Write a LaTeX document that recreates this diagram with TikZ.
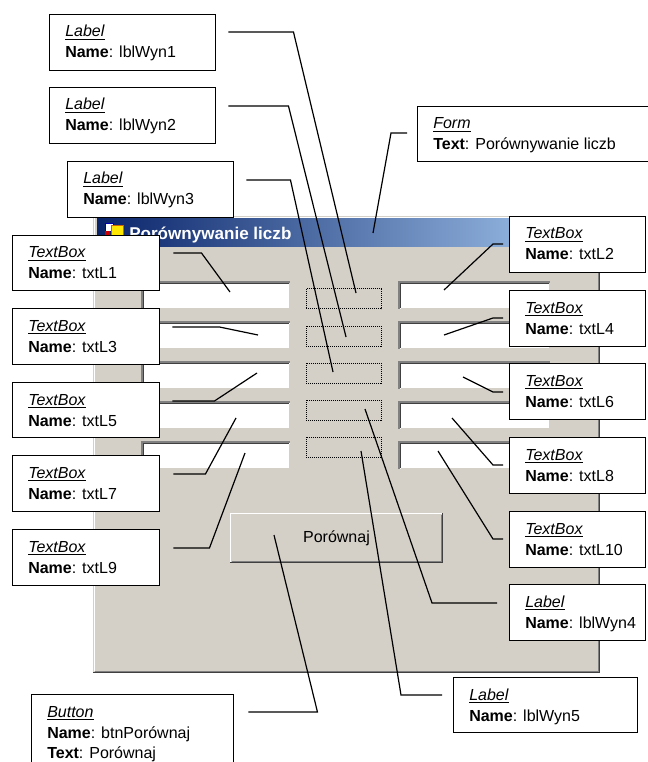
\documentclass[tikz,border=0pt]{standalone}
\usepackage{fontspec}
\setmainfont{Liberation Sans}
\usetikzlibrary{calc}
\definecolor{formgray}{HTML}{D4D0C8}
\definecolor{tbdark}{HTML}{0A246A}
\definecolor{tblight}{HTML}{A6CAF0}
\definecolor{shadowA}{HTML}{404040}
\definecolor{shadowB}{HTML}{808080}
\newcommand\mycallout[7]{%
  \node[cbox, minimum width=#4*0.75pt, minimum height=#5*0.75pt] (#1) at (#2,#3) {};
  \node[ctext] (#1-a) at ([shift={(16,23)}]#1.north west) {\underline{\textit{#6}}};
  \node[ctext] (#1-b) at ([shift={(16,44)}]#1.north west) {#7};
}
\begin{document}
\begin{tikzpicture}[x=0.75pt,y=-0.75pt,
  cbox/.style={draw=black, line width=1.1pt, fill=white, anchor=north west, inner sep=0pt},
  ctext/.style={anchor=base west, inner sep=0pt, font=\fontsize{12}{14}\selectfont},
  conn/.style={draw=black, line width=0.9pt},
  lblbox/.style={draw=black, dash pattern=on 0.75pt off 0.75pt, line width=0.75pt},
  edgeA/.style={line width=0.75pt},
  edgeB/.style={line width=1.5pt}]
\useasboundingbox (0,0) rectangle (647,762);
\fill[white] (0,0) rectangle (647,762);

% ---- form window ----
\fill[formgray] (93,216) rectangle (600,673);
\draw[white, edgeA] (94.5,671) -- (94.5,217.5) -- (598,217.5);
\draw[shadowA, edgeA] (93,672.5) -- (599.5,672.5) -- (599.5,216);
\draw[shadowB, edgeA] (95,671.5) -- (598.5,671.5) -- (598.5,218);
\shade[left color=tbdark, right color=tblight] (97,219) rectangle (596,247);
% icon
\fill[white] (105,223) rectangle (113,231);
\draw[blue!70!black, line width=0.6pt] (105,223) rectangle (113,231);
\fill[red!80!black] (105,231) rectangle (110,238);
\fill[yellow!90!orange] (111,225) rectangle (123,238);
\draw[orange!80!black, line width=0.6pt] (111,225) rectangle (123,238);
\node[anchor=base west, inner sep=0pt, text=white, font=\fontsize{12.8}{14}\selectfont\bfseries] (title) at (129,240) {Porównywanie liczb};

% text boxes
\foreach \r in {281,321,361,401,441}{
  \fill[white] (141,\r) rectangle (290,\r+28);
  \draw[shadowB, edgeB] (142,\r+28) -- (142,\r+1) -- (290,\r+1);
  \draw[shadowA, edgeA] (143.5,\r+27) -- (143.5,\r+2.5) -- (289,\r+2.5);
  \draw[formgray, edgeA] (143.5,\r+27.5) -- (289.5,\r+27.5) -- (289.5,\r+2.5);
  \fill[white] (398,\r) rectangle (550,\r+28);
  \draw[shadowB, edgeB] (399,\r+28) -- (399,\r+1) -- (550,\r+1);
  \draw[shadowA, edgeA] (400.5,\r+27) -- (400.5,\r+2.5) -- (549,\r+2.5);
  \draw[formgray, edgeA] (400.5,\r+27.5) -- (549.5,\r+27.5) -- (549.5,\r+2.5);
}
% label placeholders
\foreach \r in {289,326,363,400,437}{
  \draw[lblbox] (306,\r) rectangle (381,\r+20);
}
% button
\fill[formgray] (230,513) rectangle (443,563);
\draw[white, edgeA] (230.5,562) -- (230.5,513.5) -- (442,513.5);
\draw[shadowA, edgeA] (230,562.5) -- (442.5,562.5) -- (442.5,513);
\draw[shadowB, edgeA] (231.5,561.5) -- (441.5,561.5) -- (441.5,514.5);
\node[inner sep=0pt, font=\fontsize{12}{14}\selectfont] (btntext) at (336.5,538) {Porównaj};

% ---- callouts ----
\mycallout{w1}{49}{14}{166}{56}{Label}{\textbf{Name}: lblWyn1}
\mycallout{w2}{49}{87}{166}{56}{Label}{\textbf{Name}: lblWyn2}
\mycallout{w3}{67}{161}{166}{56}{Label}{\textbf{Name}: lblWyn3}
\mycallout{frm}{417}{106}{235}{55}{Form}{\textbf{Text}: Porównywanie liczb}
\mycallout{t1}{12}{235}{147}{55}{TextBox}{\textbf{Name}: txtL1}
\mycallout{t3}{12}{308}{147}{56}{TextBox}{\textbf{Name}: txtL3}
\mycallout{t5}{12}{382}{147}{55}{TextBox}{\textbf{Name}: txtL5}
\mycallout{t7}{12}{455}{147}{56}{TextBox}{\textbf{Name}: txtL7}
\mycallout{t9}{12}{529}{147}{56}{TextBox}{\textbf{Name}: txtL9}
\mycallout{t2}{509}{216}{136}{56}{TextBox}{\textbf{Name}: txtL2}
\mycallout{t4}{509}{290}{136}{56}{TextBox}{\textbf{Name}: txtL4}
\mycallout{t6}{509}{363}{136}{56}{TextBox}{\textbf{Name}: txtL6}
\mycallout{t8}{509}{437}{136}{56}{TextBox}{\textbf{Name}: txtL8}
\mycallout{t10}{509}{511}{136}{56}{TextBox}{\textbf{Name}: txtL10}
\mycallout{w4}{509}{584}{136}{56}{Label}{\textbf{Name}: lblWyn4}
\mycallout{w5}{453}{677}{184}{55}{Label}{\textbf{Name}: lblWyn5}
\mycallout{btn}{31}{694}{202}{80}{Button}{\textbf{Name}: btnPorównaj}
\node[ctext] (btn-c) at ([shift={(16,64)}]btn.north west) {\textbf{Text}: Porównaj};

% ---- connector tips ----
\coordinate (w1tip) at (356,293);
\coordinate (w2tip) at (346,337);
\coordinate (w3tip) at (333,372);
\coordinate (frmtip) at (373,233);
\coordinate (t1tip) at (230,292);
\coordinate (t3tip) at (258,335);
\coordinate (t5tip) at (257,373);
\coordinate (t7tip) at (236,418);
\coordinate (t9tip) at (245,453);
\coordinate (btntip) at (274,535);
\coordinate (t2tip) at (444,290);
\coordinate (t4tip) at (444,335);
\coordinate (t6tip) at (463,377);
\coordinate (t8tip) at (452,418);
\coordinate (t10tip) at (438,451);
\coordinate (w4tip) at (365,409);
\coordinate (w5tip) at (361,451);

% ---- connectors ----
\draw[conn] ([shift={(12,18)}]w1.north east) -- ++(65,0) -- (w1tip);
\draw[conn] ([shift={(12,19)}]w2.north east) -- ++(60,0) -- (w2tip);
\draw[conn] ([shift={(12,19)}]w3.north east) -- ++(44,0) -- (w3tip);
\draw[conn] ([shift={(-10,27)}]frm.north west) -- ++(-16,0) -- (frmtip);
\draw[conn] ([shift={(13,18)}]t1.north east) -- ++(28,0) -- (t1tip);
\draw[conn] ([shift={(12,19)}]t3.north east) -- ++(47,0) -- (t3tip);
\draw[conn] ([shift={(12,19)}]t5.north east) -- ++(42,0) -- (t5tip);
\draw[conn] ([shift={(13,19)}]t7.north east) -- ++(32,0) -- (t7tip);
\draw[conn] ([shift={(13,19)}]t9.north east) -- ++(36,0) -- (t9tip);
\draw[conn] ([shift={(14,18)}]btn.north east) -- ++(69,0) -- (btntip);
\draw[conn] ([shift={(-6,28)}]t2.north west) -- ++(-10,0) -- (t2tip);
\draw[conn] ([shift={(-6,28)}]t4.north west) -- ++(-10,0) -- (t4tip);
\draw[conn] ([shift={(-6,29)}]t6.north west) -- ++(-10,0) -- (t6tip);
\draw[conn] ([shift={(-6,28)}]t8.north west) -- ++(-10,0) -- (t8tip);
\draw[conn] ([shift={(-6,28)}]t10.north west) -- ++(-10,0) -- (t10tip);
\draw[conn] ([shift={(-12,19)}]w4.north west) -- ++(-65,0) -- (w4tip);
\draw[conn] ([shift={(-11,18)}]w5.north west) -- ++(-41,0) -- (w5tip);
\end{tikzpicture}
\end{document}
